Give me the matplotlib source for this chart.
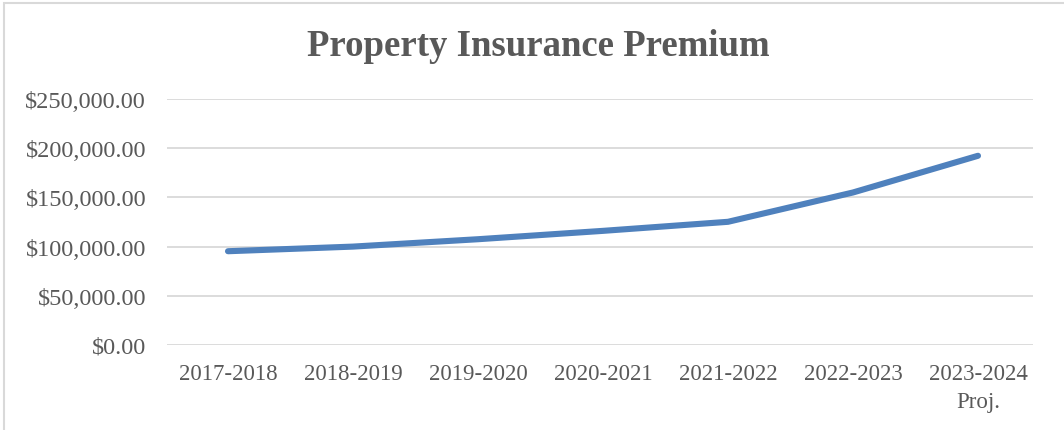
import matplotlib
matplotlib.use("Agg")
import matplotlib.pyplot as plt
from matplotlib.patches import Rectangle
from matplotlib.ticker import FuncFormatter

categories = ["2017-2018", "2018-2019", "2019-2020", "2020-2021",
              "2021-2022", "2022-2023", "2023-2024\nProj."]
premium = [95300, 100000, 107500, 116000, 125200, 155000, 192300]
yticks = [0, 50000, 100000, 150000, 200000, 250000]

W, H = 1064, 431
fig = plt.figure(figsize=(W / 100, H / 100), dpi=100)
plt.rcParams['font.family'] = ['Liberation Serif', 'DejaVu Serif']

ax = fig.add_axes([167 / W, 1 - 346 / H, (1033 - 167) / W, (346 - 100) / H])

x = list(range(len(categories)))
ax.plot(x, premium, color="#4F81BD", lw=4.4, solid_capstyle="round",
        solid_joinstyle="round", zorder=3)

ax.set_xlim(-0.488, 6.44)
ax.set_ylim(0, 250000)
ax.set_yticks(yticks)
ax.yaxis.set_major_formatter(FuncFormatter(lambda v, p: f"${v:,.2f}"))
ax.set_xticks(x)
ax.set_xticklabels(categories, linespacing=1.45)
ax.grid(axis="y", color="#D9D9D9", lw=1.3)
ax.set_axisbelow(True)
for s in ax.spines.values():
    s.set_visible(False)
ax.tick_params(axis="both", length=0, colors="#595959", labelsize=16.5)
ax.tick_params(axis="y", pad=15, labelsize=17.5)
ax.tick_params(axis="x", pad=13)

fig.text(538 / W, 1 - 47 / H, "Property Insurance Premium", ha="center", va="center",
         fontsize=26.5, fontweight="bold", color="#595959")

fig.patches.append(Rectangle((4 / W, -0.02), 1.05, 1 - 4 / H + 0.02, transform=fig.transFigure,
                             fill=False, edgecolor="#D9D9D9", lw=1.5))

fig.savefig("out.png", dpi=100)
